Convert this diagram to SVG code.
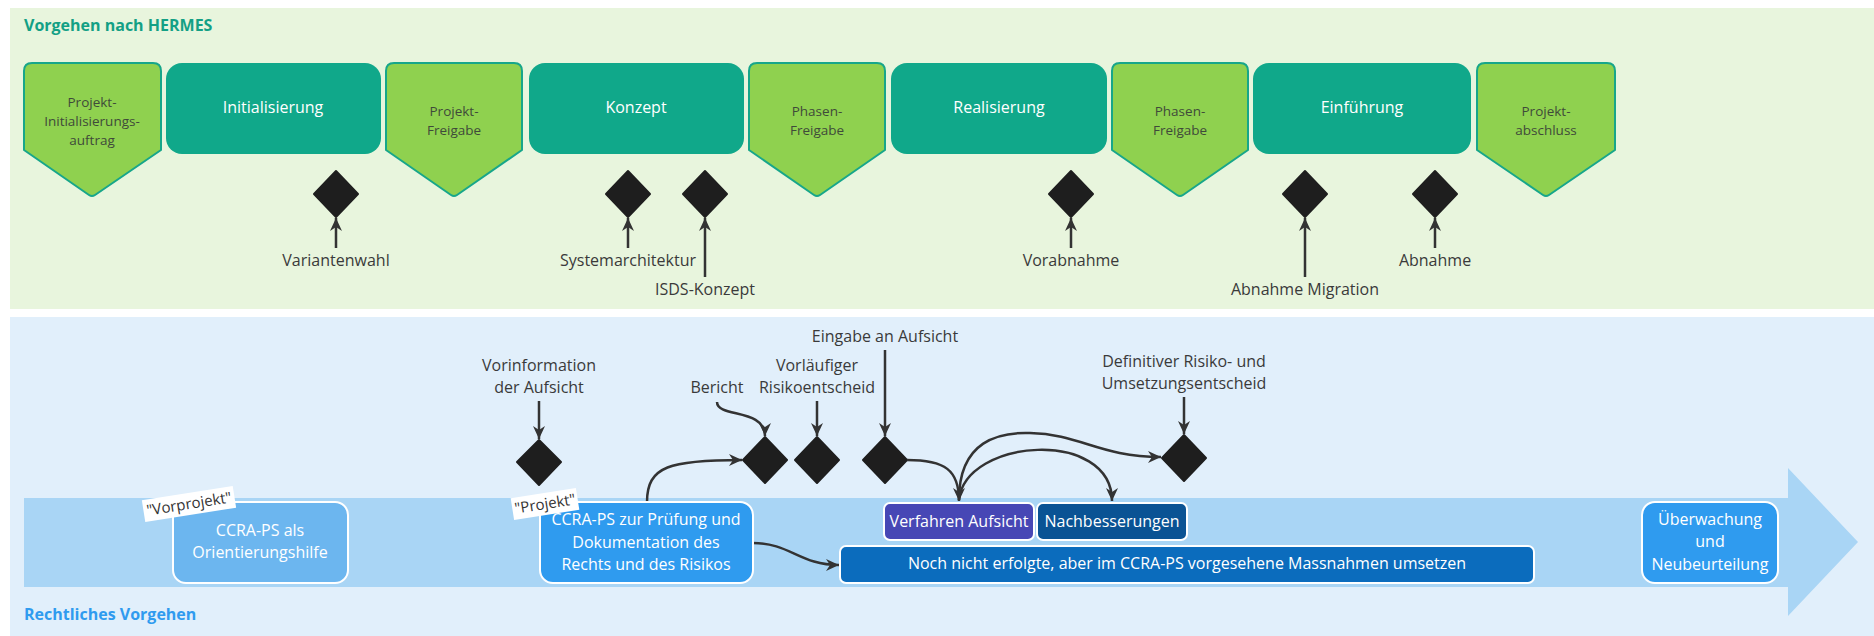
<svg xmlns="http://www.w3.org/2000/svg" width="1874" height="636" viewBox="0 0 1874 636">
<style>
text{font-family:"Open Sans","Noto Sans","Liberation Sans",sans-serif}
.ttl{font-weight:bold;font-size:16px}
.phase{fill:#10a88a}
.phtx{fill:#ffffff;font-size:16px;text-anchor:middle}
.pent{fill:#8fd14f;stroke:#17a68a;stroke-width:2;stroke-linejoin:round}
.pttx{fill:#3f4a3a;font-size:13.5px;text-anchor:middle}
.dia{fill:#1e1e1e;stroke:#1e1e1e;stroke-width:2;stroke-linejoin:round}
.lbl{fill:#3a3a3a;font-size:16px;text-anchor:middle}
.con{fill:none;stroke:#333333;stroke-width:2.5}
.box{stroke:#ffffff;stroke-width:2}
.btx{fill:#ffffff;font-size:16px;text-anchor:middle}
.tag{fill:#ffffff}
.tagtx{fill:#333333;font-size:15px;text-anchor:middle}
</style>
<defs>
<marker id="ah" markerUnits="userSpaceOnUse" markerWidth="14" markerHeight="14" refX="13" refY="7" orient="auto">
<path d="M0,1 L13,7 L0,13 L4,7 Z" fill="#333333"/>
</marker>
</defs>
<rect x="0" y="0" width="1874" height="636" fill="#ffffff"/>
<g id="panel-hermes">
<rect x="10" y="8" width="1864" height="301" fill="#e8f5dd"/>
<text class="ttl" x="24" y="31" fill="#13a085">Vorgehen nach HERMES</text>
</g>
<g id="panel-recht">
<rect x="10" y="317" width="1864" height="319" fill="#e1effb"/>
<path d="M24,498 L1788,498 L1788,468 L1858,542 L1788,616 L1788,587 L24,587 Z" fill="#a9d5f5"/>
<text class="ttl" x="24" y="620" fill="#2f9bef">Rechtliches Vorgehen</text>
</g>

<g id="p-init-auftrag">
<path class="pent" d="M24,71 Q24,63 32,63 L153,63 Q161,63 161,71 L161,150 L95,195 Q92,197 89,195 L24,150 Z"/>
<text class="pttx"><tspan x="92" y="107">Projekt-</tspan><tspan x="92" y="126">Initialisierungs-</tspan><tspan x="92" y="145">auftrag</tspan></text>
</g>
<g id="ph-init">
<rect class="phase" x="166" y="63" width="215" height="91" rx="16"/>
<text class="phtx" x="273" y="113">Initialisierung</text>
</g>
<g id="p-projekt-freigabe">
<path class="pent" d="M386,71 Q386,63 394,63 L514,63 Q522,63 522,71 L522,150 L457,195 Q454,197 451,195 L386,150 Z"/>
<text class="pttx"><tspan x="454" y="116">Projekt-</tspan><tspan x="454" y="135">Freigabe</tspan></text>
</g>
<g id="ph-konzept">
<rect class="phase" x="529" y="63" width="215" height="91" rx="16"/>
<text class="phtx" x="636" y="113">Konzept</text>
</g>
<g id="p-phasen-freigabe-1">
<path class="pent" d="M749,71 Q749,63 757,63 L877,63 Q885,63 885,71 L885,150 L820,195 Q817,197 814,195 L749,150 Z"/>
<text class="pttx"><tspan x="817" y="116">Phasen-</tspan><tspan x="817" y="135">Freigabe</tspan></text>
</g>
<g id="ph-real">
<rect class="phase" x="891" y="63" width="216" height="91" rx="16"/>
<text class="phtx" x="999" y="113">Realisierung</text>
</g>
<g id="p-phasen-freigabe-2">
<path class="pent" d="M1112,71 Q1112,63 1120,63 L1240,63 Q1248,63 1248,71 L1248,150 L1183,195 Q1180,197 1177,195 L1112,150 Z"/>
<text class="pttx"><tspan x="1180" y="116">Phasen-</tspan><tspan x="1180" y="135">Freigabe</tspan></text>
</g>
<g id="ph-einf">
<rect class="phase" x="1253" y="63" width="218" height="91" rx="16"/>
<text class="phtx" x="1362" y="113">Einführung</text>
</g>
<g id="p-abschluss">
<path class="pent" d="M1477,71 Q1477,63 1485,63 L1607,63 Q1615,63 1615,71 L1615,150 L1549,195 Q1546,197 1543,195 L1477,150 Z"/>
<text class="pttx"><tspan x="1546" y="116">Projekt-</tspan><tspan x="1546" y="135">abschluss</tspan></text>
</g>

<g id="m-variantenwahl">
<polygon class="dia" points="336,171 358,194 336,217 314,194"/>
<text class="lbl" x="336" y="266">Variantenwahl</text>
</g>
<g id="m-systemarchitektur">
<polygon class="dia" points="628,171 650,194 628,217 606,194"/>
<text class="lbl" x="628" y="266">Systemarchitektur</text>
</g>
<g id="m-isds">
<polygon class="dia" points="705,171 727,194 705,217 683,194"/>
<text class="lbl" x="705" y="295">ISDS-Konzept</text>
</g>
<g id="m-vorabnahme">
<polygon class="dia" points="1071,171 1093,194 1071,217 1049,194"/>
<text class="lbl" x="1071" y="266">Vorabnahme</text>
</g>
<g id="m-abnahme-migration">
<polygon class="dia" points="1305,171 1327,194 1305,217 1283,194"/>
<text class="lbl" x="1305" y="295">Abnahme Migration</text>
</g>
<g id="m-abnahme">
<polygon class="dia" points="1435,171 1457,194 1435,217 1413,194"/>
<text class="lbl" x="1435" y="266">Abnahme</text>
</g>

<g id="m-vorinformation">
<polygon class="dia" points="539,440 561,462 539,485 517,462"/>
<text class="lbl"><tspan x="539" y="371">Vorinformation</tspan><tspan x="539" y="393">der Aufsicht</tspan></text>
</g>
<g id="m-bericht">
<polygon class="dia" points="765,437 787,460 765,483 743,460"/>
<text class="lbl" x="717" y="393">Bericht</text>
</g>
<g id="m-vorlaeufig">
<polygon class="dia" points="817,437 839,460 817,483 795,460"/>
<text class="lbl"><tspan x="817" y="371">Vorläufiger</tspan><tspan x="817" y="393">Risikoentscheid</tspan></text>
</g>
<g id="m-eingabe">
<polygon class="dia" points="885,437 907,460 885,483 863,460"/>
<text class="lbl" x="885" y="342">Eingabe an Aufsicht</text>
</g>
<g id="m-definitiv">
<polygon class="dia" points="1184,435 1206,458 1184,481 1162,458"/>
<text class="lbl"><tspan x="1184" y="367">Definitiver Risiko- und</tspan><tspan x="1184" y="389">Umsetzungsentscheid</tspan></text>
</g>

<g id="connectors">
<path class="con" d="M336,248 L336,218" marker-end="url(#ah)"/>
<path class="con" d="M628,248 L628,218" marker-end="url(#ah)"/>
<path class="con" d="M705,277 L705,218" marker-end="url(#ah)"/>
<path class="con" d="M1071,248 L1071,218" marker-end="url(#ah)"/>
<path class="con" d="M1305,277 L1305,218" marker-end="url(#ah)"/>
<path class="con" d="M1435,248 L1435,218" marker-end="url(#ah)"/>
<path class="con" d="M539,401 L539,439" marker-end="url(#ah)"/>
<path class="con" d="M817,401 L817,436" marker-end="url(#ah)"/>
<path class="con" d="M885,350 L885,436" marker-end="url(#ah)"/>
<path class="con" d="M1184,397 L1184,434" marker-end="url(#ah)"/>
<path class="con" d="M717,402 C717,418 765,408 765,436" marker-end="url(#ah)"/>
<path class="con" d="M647,502 C647,466 670,460 742,460" marker-end="url(#ah)"/>
<path class="con" d="M753,543 C790,543 800,565 839,565" marker-end="url(#ah)"/>
<path class="con" d="M907,460 C945,460 959,470 959,501" marker-end="url(#ah)"/>
<path class="con" d="M959,500 C959,440 1000,432 1030,433 C1080,434 1100,457 1161,457" marker-end="url(#ah)"/>
<path class="con" d="M959,500 C965,438 1112,428 1112,501" marker-end="url(#ah)"/>
</g>

<g id="n-orientierung">
<rect class="box" x="173" y="502" width="175" height="81" rx="13" fill="#6cb6ef"/>
<text class="btx"><tspan x="260" y="536">CCRA-PS als</tspan><tspan x="260" y="558">Orientierungshilfe</tspan></text>
</g>
<g id="n-pruefung">
<rect class="box" x="540" y="502" width="213" height="81" rx="13" fill="#2f9bef"/>
<text class="btx"><tspan x="646" y="525">CCRA-PS zur Prüfung und</tspan><tspan x="646" y="548">Dokumentation des</tspan><tspan x="646" y="570">Rechts und des Risikos</tspan></text>
</g>
<g id="n-verfahren">
<rect class="box" x="884" y="503" width="150" height="37" rx="6" fill="#4747b5"/>
<text class="btx" x="959" y="527">Verfahren Aufsicht</text>
</g>
<g id="n-nachbesserungen">
<rect class="box" x="1037" y="503" width="150" height="37" rx="6" fill="#0a5394"/>
<text class="btx" x="1112" y="527">Nachbesserungen</text>
</g>
<g id="n-massnahmen">
<rect class="box" x="840" y="546" width="694" height="37" rx="6" fill="#0b6cbd"/>
<text class="btx" x="1187" y="569">Noch nicht erfolgte, aber im CCRA-PS vorgesehene Massnahmen umsetzen</text>
</g>
<g id="n-ueberwachung">
<rect class="box" x="1642" y="502" width="136" height="81" rx="13" fill="#2f9bef"/>
<text class="btx"><tspan x="1710" y="525">Überwachung</tspan><tspan x="1710" y="547">und</tspan><tspan x="1710" y="570">Neubeurteilung</tspan></text>
</g>

<g id="tag-vorprojekt" transform="translate(189,504) rotate(-9)">
<rect class="tag" x="-46" y="-11" width="92" height="22"/>
<text class="tagtx" x="0" y="5">"Vorprojekt"</text>
</g>
<g id="tag-projekt" transform="translate(545,504) rotate(-9)">
<rect class="tag" x="-33" y="-11" width="66" height="22"/>
<text class="tagtx" x="0" y="5">"Projekt"</text>
</g>
</svg>
